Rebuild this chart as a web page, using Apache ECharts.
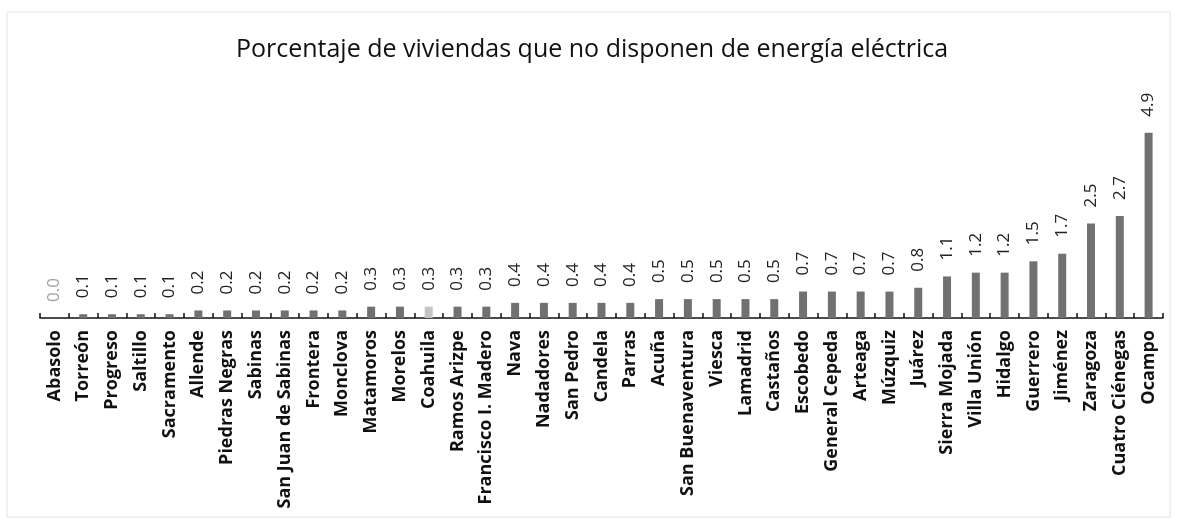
<!DOCTYPE html>
<html>
<head>
<meta charset="utf-8">
<script src="https://cdn.jsdelivr.net/npm/echarts@6/dist/echarts.min.js"></script>
<style>
  html, body { margin: 0; padding: 0; background: #fff; }
  #chart { width: 1184px; height: 523px; }
</style>
</head>
<body>
<div id="chart"></div>
<script>
// municipios (ordenados de menor a mayor)
var municipios = ['Abasolo', 'Torreón', 'Progreso', 'Saltillo', 'Sacramento', 'Allende', 'Piedras Negras',
  'Sabinas', 'San Juan de Sabinas', 'Frontera', 'Monclova', 'Matamoros', 'Morelos', 'Coahuila',
  'Ramos Arizpe', 'Francisco I. Madero', 'Nava', 'Nadadores', 'San Pedro', 'Candela', 'Parras',
  'Acuña', 'San Buenaventura', 'Viesca', 'Lamadrid', 'Castaños', 'Escobedo', 'General Cepeda',
  'Arteaga', 'Múzquiz', 'Juárez', 'Sierra Mojada', 'Villa Unión', 'Hidalgo', 'Guerrero',
  'Jiménez', 'Zaragoza', 'Cuatro Ciénegas', 'Ocampo'];
var porcentajes = [0.0, 0.1, 0.1, 0.1, 0.1, 0.2, 0.2, 0.2, 0.2, 0.2, 0.2, 0.3, 0.3, 0.3, 0.3, 0.3,
  0.4, 0.4, 0.4, 0.4, 0.4, 0.5, 0.5, 0.5, 0.5, 0.5, 0.7, 0.7, 0.7, 0.7, 0.8, 1.1, 1.2, 1.2, 1.5,
  1.7, 2.5, 2.7, 4.9];
var destacado = 'Coahuila'; // total estatal, barra más clara

var myChart = echarts.init(document.getElementById('chart'));

var datos = porcentajes.map(function (v, i) {
  var item = { value: v };
  if (municipios[i] === destacado) item.itemStyle = { color: '#c4c4c4' };
  if (v === 0) item.label = { color: '#a0a0a0' };
  return item;
});

var options = {
  backgroundColor: '#fff',
  title: {
    text: 'Porcentaje de viviendas que no disponen de energía eléctrica',
    left: 'center',
    top: 32,
    textStyle: { fontFamily: 'Open Sans', fontWeight: 'normal', fontSize: 25, color: '#111' }
  },
  grid: { left: 40, right: 21, top: 129, bottom: 205 },
  xAxis: {
    type: 'category',
    data: municipios,
    axisLine: { lineStyle: { color: '#111', width: 1.5 } },
    axisTick: { show: true, inside: true, length: 5, lineStyle: { color: '#111', width: 1.5 } },
    axisLabel: {
      interval: 0,
      rotate: 90,
      margin: 12,
      fontFamily: 'Open Sans',
      fontWeight: 'bold',
      fontSize: 18,
      color: '#111'
    }
  },
  yAxis: {
    type: 'value',
    min: 0,
    max: 5,
    show: false,
    splitLine: { show: false }
  },
  series: [{
    type: 'bar',
    data: datos,
    barWidth: 8,
    itemStyle: { color: '#717171' },
    label: {
      show: true,
      position: 'top',
      rotate: 90,
      align: 'left',
      verticalAlign: 'middle',
      distance: 16,
      fontFamily: 'Open Sans',
      fontSize: 17,
      color: '#222',
      formatter: function (p) { return p.value.toFixed(1); }
    }
  }],
  graphic: [{
    type: 'rect',
    shape: { x: 7, y: 12, width: 1163, height: 505 },
    style: { fill: 'none', stroke: '#e2e2e2', lineWidth: 1 }
  }]
};
myChart.setOption(options);
</script>
</body>
</html>
